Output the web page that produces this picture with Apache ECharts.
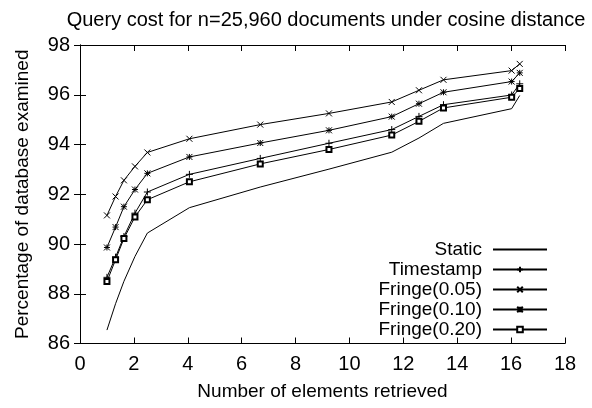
<!DOCTYPE html>
<html>
<head>
<meta charset="utf-8">
<script src="https://cdn.jsdelivr.net/npm/echarts@6/dist/echarts.min.js"></script>
<style>html,body{margin:0;padding:0;background:#fff;}#c{width:592px;height:408px;}</style>
</head>
<body>
<div id="c"></div>
<script>
const titleText = 'Query cost for n=25,960 documents under cosine distance';
const xName = 'Number of elements retrieved';
const yName = 'Percentage of database examined';
const xValues = [1, 1.32, 1.63, 2.04, 2.5, 4.06, 6.69, 9.24, 11.57, 12.58, 13.49, 16.02, 16.32];
const staticY = [86.54, 87.6, 88.5, 89.5, 90.44, 91.46, 92.29, 93.01, 93.69, 94.26, 94.85, 95.44, 95.97];
const timestampY = [88.66, 89.47, 90.30, 91.24, 92.09, 92.80, 93.44, 94.05, 94.60, 95.13, 95.60, 95.99, 96.44];
const fringe05Y = [91.15, 91.91, 92.56, 93.12, 93.68, 94.23, 94.80, 95.25, 95.71, 96.18, 96.60, 96.97, 97.24];
const fringe10Y = [89.86, 90.68, 91.50, 92.19, 92.84, 93.50, 94.06, 94.57, 95.12, 95.64, 96.10, 96.53, 96.88];
const fringe20Y = [88.49, 89.37, 90.22, 91.09, 91.78, 92.50, 93.22, 93.80, 94.38, 94.93, 95.47, 95.90, 96.25];
const seriesNames = ['Static', 'Timestamp', 'Fringe(0.05)', 'Fringe(0.10)', 'Fringe(0.20)'];

const FONT = '"Liberation Sans", Arial, sans-serif';
const pair = ys => xValues.map((x, i) => [x, ys[i]]);
const symbols = {
  'Static': 'circle',
  'Timestamp': 'path://M5,0L5,10M0,5L10,5',
  'Fringe(0.05)': 'path://M0,0L10,10M10,0L0,10',
  'Fringe(0.10)': 'path://M0,0L10,10M10,0L0,10M5,0L5,10M0,5L10,5',
  'Fringe(0.20)': 'emptyRect'
};
const sizes = {'Static': 1, 'Timestamp': 7, 'Fringe(0.05)': 6, 'Fringe(0.10)': 6, 'Fringe(0.20)': 5};
const ys = [staticY, timestampY, fringe05Y, fringe10Y, fringe20Y];

const chart = echarts.init(document.getElementById('c'), null, {renderer: 'canvas'});
const axisCommon = {
  axisLine: {show: true, lineStyle: {color: '#000', width: 1}},
  axisTick: {show: true, inside: true, length: 6, lineStyle: {color: '#000', width: 1}},
  splitLine: {show: false}
};
chart.setOption({
  animation: false,
  backgroundColor: '#fff',
  textStyle: {fontFamily: FONT},
  title: {
    text: titleText, left: 321, top: 5, textAlign: 'center',
    textStyle: {fontFamily: FONT, fontSize: 20, fontWeight: 'normal', color: '#000'}
  },
  grid: {left: 80, right: 27, top: 45, bottom: 64.5, containLabel: false},
  xAxis: [
    Object.assign({
      type: 'value', position: 'bottom', min: 0, max: 18, interval: 2,
      name: xName, nameLocation: 'middle', nameGap: 39,
      nameTextStyle: {fontFamily: FONT, fontSize: 19, color: '#000'},
      axisLabel: {fontFamily: FONT, fontSize: 20, color: '#000', margin: 11}
    }, axisCommon),
    Object.assign({
      type: 'value', position: 'top', min: 0, max: 18, interval: 2,
      axisLabel: {show: false}
    }, axisCommon)
  ],
  yAxis: [
    Object.assign({
      type: 'value', position: 'left', min: 86, max: 98, interval: 2,
      name: yName, nameLocation: 'middle', nameGap: 48, nameRotate: 90,
      nameTextStyle: {fontFamily: FONT, fontSize: 19, color: '#000'},
      axisLabel: {fontFamily: FONT, fontSize: 20, color: '#000', margin: 10}
    }, axisCommon),
    Object.assign({
      type: 'value', position: 'right', min: 86, max: 98, interval: 2,
      axisLabel: {show: false}
    }, axisCommon)
  ],
  legend: {
    orient: 'vertical', right: 39, top: 235, align: 'right',
    itemWidth: 54, itemHeight: 7, itemGap: 1,
    textStyle: {fontFamily: FONT, fontSize: 19, color: '#000', padding: [0, 6, 0, 0]},
    data: seriesNames
  },
  series: seriesNames.map((name, i) => ({
    name: name, type: 'line', xAxisIndex: 0, yAxisIndex: 0,
    data: pair(ys[i]),
    symbol: symbols[name], symbolSize: sizes[name], showSymbol: name !== 'Static',
    lineStyle: {color: '#000', width: 1},
    itemStyle: name === 'Static'
      ? {color: 'rgba(0,0,0,0)', borderColor: 'rgba(0,0,0,0)', borderWidth: 0}
      : {color: '#000', borderColor: '#000', borderWidth: 1},
    emphasis: {disabled: true}
  }))
});
</script>
</body>
</html>
